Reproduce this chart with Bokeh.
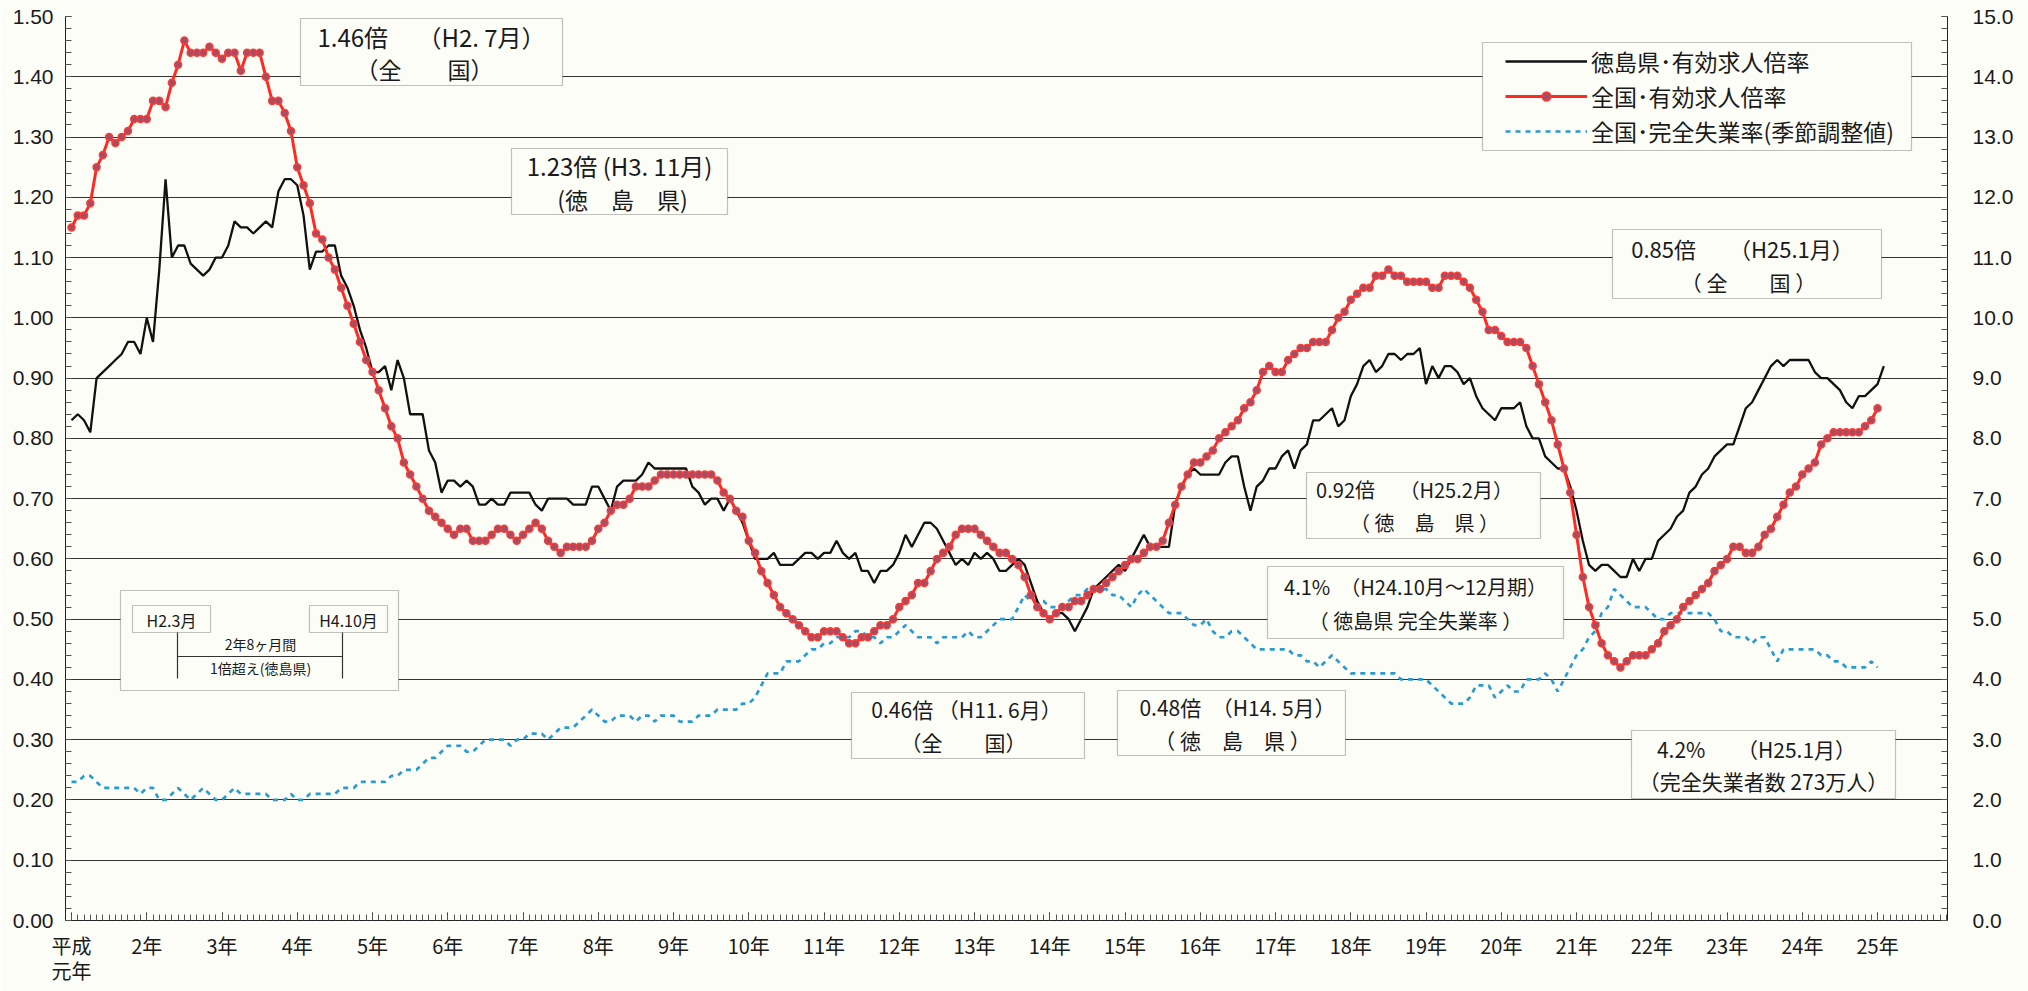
from bokeh.plotting import figure
from bokeh.models import (Range1d, LinearAxis, FixedTicker, PrintfTickFormatter,
                          BoxAnnotation, Label, Legend, LegendItem)
from bokeh.embed import file_html
from bokeh.resources import INLINE

# ---------------- data (monthly, H1.1 = index 0) ----------------
year_labels = ["平成", "2年", "3年", "4年", "5年", "6年", "7年", "8年", "9年", "10年",
               "11年", "12年", "13年", "14年", "15年", "16年", "17年", "18年", "19年",
               "20年", "21年", "22年", "23年", "24年", "25年"]
first_label_second_line = "元年"

# 全国・有効求人倍率 (H1.1 - H25.1)
national_ratio = [
    1.15, 1.17, 1.17, 1.19, 1.25, 1.27, 1.30, 1.29, 1.30, 1.31, 1.33, 1.33,
    1.33, 1.36, 1.36, 1.35, 1.39, 1.42, 1.46, 1.44, 1.44, 1.44, 1.45, 1.44,
    1.43, 1.44, 1.44, 1.41, 1.44, 1.44, 1.44, 1.40, 1.36, 1.36, 1.34, 1.31,
    1.25, 1.22, 1.19, 1.14, 1.13, 1.10, 1.08, 1.05, 1.02, 0.99, 0.96, 0.93,
    0.91, 0.88, 0.85, 0.82, 0.80, 0.76, 0.74, 0.72, 0.70, 0.68, 0.67, 0.66,
    0.65, 0.64, 0.65, 0.65, 0.63, 0.63, 0.63, 0.64, 0.65, 0.65, 0.64, 0.63,
    0.64, 0.65, 0.66, 0.65, 0.63, 0.62, 0.61, 0.62, 0.62, 0.62, 0.62, 0.63,
    0.65, 0.66, 0.68, 0.69, 0.69, 0.70, 0.72, 0.72, 0.72, 0.73, 0.74, 0.74,
    0.74, 0.74, 0.74, 0.74, 0.74, 0.74, 0.74, 0.73, 0.71, 0.70, 0.68, 0.67,
    0.63, 0.61, 0.58, 0.56, 0.54, 0.52, 0.51, 0.50, 0.49, 0.48, 0.47, 0.47,
    0.48, 0.48, 0.48, 0.47, 0.46, 0.46, 0.47, 0.47, 0.48, 0.49, 0.49, 0.50,
    0.52, 0.53, 0.54, 0.56, 0.56, 0.58, 0.60, 0.61, 0.62, 0.64, 0.65, 0.65,
    0.65, 0.64, 0.63, 0.62, 0.61, 0.61, 0.60, 0.59, 0.57, 0.54, 0.52, 0.51,
    0.50, 0.51, 0.52, 0.52, 0.53, 0.53, 0.54, 0.55, 0.55, 0.56, 0.57, 0.58,
    0.59, 0.60, 0.60, 0.61, 0.62, 0.62, 0.63, 0.66, 0.69, 0.72, 0.74, 0.76,
    0.76, 0.77, 0.78, 0.80, 0.81, 0.82, 0.83, 0.85, 0.86, 0.88, 0.91, 0.92,
    0.91, 0.91, 0.93, 0.94, 0.95, 0.95, 0.96, 0.96, 0.96, 0.98, 1.00, 1.01,
    1.03, 1.04, 1.05, 1.05, 1.07, 1.07, 1.08, 1.07, 1.07, 1.06, 1.06, 1.06,
    1.06, 1.05, 1.05, 1.07, 1.07, 1.07, 1.06, 1.05, 1.03, 1.01, 0.98, 0.98,
    0.97, 0.96, 0.96, 0.96, 0.95, 0.92, 0.89, 0.86, 0.83, 0.79, 0.75, 0.71,
    0.64, 0.57, 0.52, 0.49, 0.46, 0.44, 0.43, 0.42, 0.43, 0.44, 0.44, 0.44,
    0.45, 0.46, 0.48, 0.49, 0.50, 0.52, 0.53, 0.54, 0.55, 0.56, 0.58, 0.59,
    0.60, 0.62, 0.62, 0.61, 0.61, 0.62, 0.64, 0.65, 0.67, 0.69, 0.71, 0.72,
    0.74, 0.75, 0.76, 0.79, 0.80, 0.81, 0.81, 0.81, 0.81, 0.81, 0.82, 0.83,
    0.85,
]

# 徳島県・有効求人倍率 (H1.1 - H25.2)
tokushima_ratio = [
    0.83, 0.84, 0.83, 0.81, 0.90, 0.91, 0.92, 0.93, 0.94, 0.96, 0.96, 0.94,
    1.00, 0.96, 1.08, 1.23, 1.10, 1.12, 1.12, 1.09, 1.08, 1.07, 1.08, 1.10,
    1.10, 1.12, 1.16, 1.15, 1.15, 1.14, 1.15, 1.16, 1.15, 1.21, 1.23, 1.23,
    1.22, 1.17, 1.08, 1.11, 1.11, 1.12, 1.12, 1.07, 1.05, 1.02, 0.98, 0.95,
    0.91, 0.91, 0.92, 0.88, 0.93, 0.90, 0.84, 0.84, 0.84, 0.78, 0.76, 0.71,
    0.73, 0.73, 0.72, 0.73, 0.72, 0.69, 0.69, 0.70, 0.69, 0.69, 0.71, 0.71,
    0.71, 0.71, 0.69, 0.68, 0.70, 0.70, 0.70, 0.70, 0.69, 0.69, 0.69, 0.72,
    0.72, 0.70, 0.68, 0.72, 0.73, 0.73, 0.73, 0.74, 0.76, 0.75, 0.75, 0.75,
    0.75, 0.75, 0.75, 0.72, 0.71, 0.69, 0.70, 0.70, 0.68, 0.70, 0.68, 0.66,
    0.63, 0.60, 0.60, 0.60, 0.61, 0.59, 0.59, 0.59, 0.60, 0.61, 0.61, 0.60,
    0.61, 0.61, 0.63, 0.61, 0.60, 0.61, 0.58, 0.58, 0.56, 0.58, 0.58, 0.59,
    0.61, 0.64, 0.62, 0.64, 0.66, 0.66, 0.65, 0.63, 0.61, 0.59, 0.60, 0.59,
    0.61, 0.60, 0.61, 0.60, 0.58, 0.58, 0.59, 0.60, 0.59, 0.56, 0.53, 0.51,
    0.50, 0.51, 0.51, 0.50, 0.48, 0.50, 0.52, 0.55, 0.56, 0.57, 0.58, 0.59,
    0.58, 0.60, 0.62, 0.64, 0.62, 0.62, 0.62, 0.62, 0.69, 0.72, 0.74, 0.75,
    0.74, 0.74, 0.74, 0.74, 0.76, 0.77, 0.77, 0.72, 0.68, 0.72, 0.73, 0.75,
    0.75, 0.77, 0.78, 0.75, 0.78, 0.79, 0.83, 0.83, 0.84, 0.85, 0.82, 0.83,
    0.87, 0.89, 0.92, 0.93, 0.91, 0.92, 0.94, 0.94, 0.93, 0.94, 0.94, 0.95,
    0.89, 0.92, 0.90, 0.92, 0.92, 0.91, 0.89, 0.90, 0.87, 0.85, 0.84, 0.83,
    0.85, 0.85, 0.85, 0.86, 0.82, 0.80, 0.80, 0.77, 0.76, 0.75, 0.75, 0.72,
    0.68, 0.63, 0.59, 0.58, 0.59, 0.59, 0.58, 0.57, 0.57, 0.60, 0.58, 0.60,
    0.60, 0.63, 0.64, 0.65, 0.67, 0.68, 0.71, 0.72, 0.74, 0.75, 0.77, 0.78,
    0.79, 0.79, 0.82, 0.85, 0.86, 0.88, 0.90, 0.92, 0.93, 0.92, 0.93, 0.93,
    0.93, 0.93, 0.91, 0.90, 0.90, 0.89, 0.88, 0.86, 0.85, 0.87, 0.87, 0.88,
    0.89, 0.92,
]

# 全国・完全失業率（季節調整値, %）(H1.1 - H25.1)
unemployment_rate = [
    2.3, 2.3, 2.4, 2.4, 2.3, 2.2, 2.2, 2.2, 2.2, 2.2, 2.2, 2.1,
    2.2, 2.2, 2.0, 2.0, 2.1, 2.2, 2.1, 2.0, 2.1, 2.2, 2.1, 2.0,
    2.0, 2.1, 2.2, 2.1, 2.1, 2.1, 2.1, 2.1, 2.0, 2.0, 2.0, 2.1,
    2.0, 2.0, 2.1, 2.1, 2.1, 2.1, 2.1, 2.2, 2.2, 2.2, 2.3, 2.3,
    2.3, 2.3, 2.3, 2.4, 2.4, 2.5, 2.5, 2.5, 2.6, 2.7, 2.7, 2.8,
    2.9, 2.9, 2.9, 2.8, 2.8, 2.9, 3.0, 3.0, 3.0, 3.0, 2.9, 3.0,
    3.0, 3.1, 3.1, 3.1, 3.0, 3.1, 3.2, 3.2, 3.2, 3.3, 3.4, 3.5,
    3.4, 3.3, 3.3, 3.4, 3.4, 3.4, 3.3, 3.4, 3.4, 3.3, 3.4, 3.4,
    3.4, 3.3, 3.3, 3.3, 3.4, 3.4, 3.4, 3.5, 3.5, 3.5, 3.5, 3.6,
    3.6, 3.7, 3.9, 4.1, 4.1, 4.1, 4.3, 4.3, 4.3, 4.4, 4.5, 4.5,
    4.6, 4.6, 4.7, 4.7, 4.7, 4.8, 4.8, 4.7, 4.7, 4.6, 4.7, 4.7,
    4.8, 4.9, 4.8, 4.7, 4.7, 4.7, 4.6, 4.7, 4.7, 4.7, 4.7, 4.8,
    4.7, 4.7, 4.8, 4.9, 5.0, 5.0, 5.0, 5.2, 5.4, 5.3, 5.3, 5.3,
    5.2, 5.2, 5.2, 5.3, 5.4, 5.4, 5.5, 5.5, 5.5, 5.5, 5.4, 5.4,
    5.3, 5.2, 5.4, 5.5, 5.4, 5.3, 5.2, 5.1, 5.1, 5.1, 5.0, 4.9,
    4.9, 5.0, 4.8, 4.7, 4.7, 4.8, 4.8, 4.7, 4.6, 4.5, 4.5, 4.5,
    4.5, 4.5, 4.5, 4.4, 4.4, 4.3, 4.3, 4.2, 4.3, 4.4, 4.3, 4.2,
    4.1, 4.1, 4.1, 4.1, 4.1, 4.1, 4.1, 4.1, 4.0, 4.0, 4.0, 4.0,
    4.0, 3.9, 3.8, 3.7, 3.6, 3.6, 3.6, 3.7, 3.9, 3.9, 3.9, 3.7,
    3.8, 3.9, 3.8, 3.8, 4.0, 4.0, 4.0, 4.1, 4.0, 3.8, 4.0, 4.2,
    4.4, 4.5, 4.7, 4.8, 5.1, 5.2, 5.5, 5.4, 5.3, 5.2, 5.2, 5.2,
    5.1, 5.0, 5.0, 5.1, 5.1, 5.1, 5.1, 5.1, 5.1, 5.1, 5.0, 4.8,
    4.8, 4.7, 4.7, 4.7, 4.6, 4.7, 4.7, 4.5, 4.3, 4.5, 4.5, 4.5,
    4.5, 4.5, 4.5, 4.4, 4.4, 4.3, 4.3, 4.2, 4.2, 4.2, 4.2, 4.3,
    4.2,
]

series_names = ["徳島県･有効求人倍率", "全国･有効求人倍率", "全国･完全失業率(季節調整値)"]

months_nat = list(range(len(national_ratio)))
months_tok = list(range(len(tokushima_ratio)))
months_une = list(range(len(unemployment_rate)))

# ---------------- geometry helpers (page pixels -> data) ----------------
FIG_W, FIG_H = 2028, 991
FRAME_L, FRAME_R, FRAME_T, FRAME_B = 65, 1947, 16, 920
PX_M0, PX_PER_MONTH = 71.0, 6.271
PY_PER_UNIT = (FRAME_B - FRAME_T) / 1.5


def mx(px):
    return (px - PX_M0) / PX_PER_MONTH


def vy(py):
    return (FRAME_B - py) / PY_PER_UNIT


BG = "#fdfdf8"
INK = "#1a1a1a"
JP = "Noto Sans CJK JP"

p = figure(width=FIG_W, height=FIG_H,
           x_range=Range1d(mx(FRAME_L), mx(FRAME_R)), y_range=Range1d(0, 1.5),
           output_backend="svg", toolbar_location=None,
           min_border_left=FRAME_L, min_border_right=FIG_W - FRAME_R,
           min_border_top=FRAME_T, min_border_bottom=FIG_H - FRAME_B,
           background_fill_color=BG, border_fill_color=BG, outline_line_color=None)
p.extra_y_ranges = {"right": Range1d(0, 15)}

left_ticks = [round(0.1 * i, 2) for i in range(16)]
left_minor = [round(0.02 * i, 2) for i in range(76)]
right_ticks = list(range(16))
right_minor = [round(0.2 * i, 1) for i in range(76)]
year_ticks = [12 * i for i in range(len(year_labels))]
tick_texts = [year_labels[0] + "\n" + first_label_second_line] + year_labels[1:]

# bottom axis
xa = p.xaxis[0]
xa.ticker = FixedTicker(ticks=year_ticks, minor_ticks=list(range(0, 300)))
xa.major_label_overrides = {t: lab for t, lab in zip(year_ticks, tick_texts)}
xa.major_label_text_font = JP
xa.major_label_text_font_size = "20px"
xa.major_label_text_line_height = 0.88
xa.major_label_text_color = INK
xa.major_label_standoff = 10
xa.major_tick_in, xa.major_tick_out = 8, 0
xa.minor_tick_in, xa.minor_tick_out = 6, 0
xa.axis_line_color = "#222"
xa.major_tick_line_color = "#333"
xa.minor_tick_line_color = "#555"

# left axis
ya = p.yaxis[0]
ya.ticker = FixedTicker(ticks=left_ticks, minor_ticks=left_minor)
ya.formatter = PrintfTickFormatter(format="%.2f")
ya.major_label_text_font = "Liberation Sans"
ya.major_label_text_font_size = "21px"
ya.major_label_text_color = INK
ya.major_label_standoff = 12
ya.major_tick_in, ya.major_tick_out = 6, 0
ya.minor_tick_in, ya.minor_tick_out = 6, 0
ya.axis_line_color = "#222"
ya.major_tick_line_color = "#333"
ya.minor_tick_line_color = "#555"

# right axis
ra = LinearAxis(y_range_name="right")
ra.ticker = FixedTicker(ticks=right_ticks, minor_ticks=right_minor)
ra.formatter = PrintfTickFormatter(format="%.1f")
ra.major_label_text_font = "Liberation Sans"
ra.major_label_text_font_size = "21px"
ra.major_label_text_color = INK
ra.major_label_standoff = 25
ra.major_tick_in, ra.major_tick_out = 6, 0
ra.minor_tick_in, ra.minor_tick_out = 6, 0
ra.axis_line_color = "#222"
ra.major_tick_line_color = "#333"
ra.minor_tick_line_color = "#555"
p.add_layout(ra, "right")

p.xgrid.visible = False
p.ygrid.ticker = FixedTicker(ticks=left_ticks)
p.ygrid.grid_line_color = "#333333"
p.ygrid.grid_line_width = 1


# ---------------- annotation boxes ----------------
def box(x0, x1, y0, y1, lw=1.2):
    b = BoxAnnotation(left=mx(x0), right=mx(x1), top=vy(y0), bottom=vy(y1),
                      fill_color=BG, fill_alpha=1.0, line_color="#333333",
                      line_width=lw, level="underlay")
    p.add_layout(b)


def text(px, py, s, size, font=JP):
    p.add_layout(Label(x=mx(px), y=vy(py), text=s, text_align="center",
                       text_baseline="middle", text_font=font,
                       text_font_size=f"{size}px", text_color=INK))


# legend frame
box(1482, 1911, 42, 150)

boxes = [
    # (x0, x1, y0, y1, [(cx, cy, text, size), ...])
    (300, 562, 18, 85, [(431, 36, "1.46倍　 （H2. 7月）", 24), (424, 68, "（全　　国）", 23)]),
    (511, 727, 148, 214, [(619, 165, "1.23倍 (H3. 11月)", 24), (622, 198, "(徳　島　県)", 23)]),
    (1612, 1881, 229, 298, [(1742, 247, "0.85倍　　（H25.1月）", 22), (1748, 281, "（ 全　　国 ）", 21)]),
    (1306, 1540, 472, 538, [(1414, 489, "0.92倍　 （H25.2月）", 20), (1424, 522, "（ 徳　島　県 ）", 20)]),
    (1267, 1563, 566, 638, [(1415, 586, "4.1%　（H24.10月～12月期）", 20), (1415, 620, "（ 徳島県 完全失業率 ）", 20)]),
    (851, 1084, 692, 758, [(966, 708, "0.46倍 （H11. 6月）", 21), (963, 741, "（全　　国）", 21)]),
    (1117, 1345, 690, 755, [(1237, 706, "0.48倍　（H14. 5月）", 21), (1232, 739, "（ 徳　島　県 ）", 21)]),
    (1631, 1895, 730, 798, [(1756, 748, "4.2%　　（H25.1月）", 21), (1763, 780, "（完全失業者数 273万人）", 21)]),
]
for x0, x1, y0, y1, lines in boxes:
    box(x0, x1, y0, y1)
    for cx, cy, s, sz in lines:
        text(cx, cy, s, sz)

# H2.3 - H4.10 period box
box(120, 398, 590, 690)
box(132, 210, 605, 632)
box(309, 387, 605, 632)
p.segment(x0=[mx(177), mx(342), mx(177)], y0=[vy(632), vy(632), vy(656)],
          x1=[mx(177), mx(342), mx(342)], y1=[vy(678), vy(678), vy(656)],
          line_color="#333333", line_width=1.2)
text(171, 619, "H2.3月", 16)
text(348, 619, "H4.10月", 16)
text(260, 643, "2年8ヶ月間", 14)
text(260, 667, "1倍超え(徳島県)", 14)

# ---------------- data renderers ----------------
r_une = p.line(months_une, unemployment_rate, y_range_name="right",
               line_color="#2b9bcf", line_width=2.7, line_dash="5 5")
r_tok = p.line(months_tok, tokushima_ratio, line_color="#111111", line_width=2.3)
r_nat = p.line(months_nat, national_ratio, line_color="#ff2b22", line_width=3)
r_nat_pts = p.scatter(months_nat, national_ratio, marker="circle", size=7,
                      fill_color="#a34d66", line_color="#ff3a33", line_width=1.5)

legend = Legend(items=[LegendItem(label=series_names[0], renderers=[r_tok]),
                       LegendItem(label=series_names[1], renderers=[r_nat, r_nat_pts]),
                       LegendItem(label=series_names[2], renderers=[r_une])],
                location=(1505 - FRAME_L, FRAME_B - 148),
                glyph_width=82, glyph_height=22, label_standoff=4,
                padding=0, spacing=1, margin=0,
                label_text_font=JP, label_text_font_size="23px", label_text_color=INK,
                border_line_color=None, background_fill_alpha=0.0)
p.add_layout(legend)

open("out.html", "w").write(file_html(p, INLINE))
